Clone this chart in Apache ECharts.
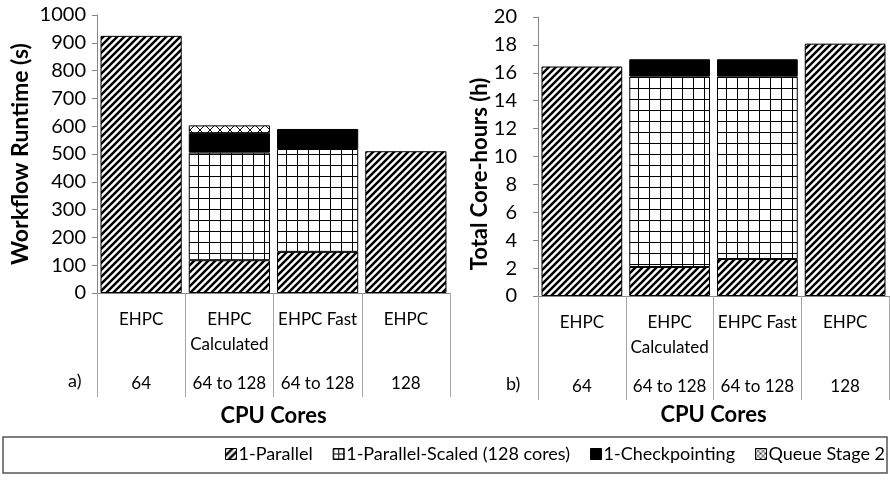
<!DOCTYPE html>
<html>
<head>
<meta charset="utf-8">
<script src="https://cdn.jsdelivr.net/npm/echarts@6/dist/echarts.min.js"></script>
<style>
html,body{margin:0;padding:0;background:#fff;}
#chart{width:890px;height:482px;}
</style>
</head>
<body>
<div id="chart"></div>
<script>
// ---- data ----
var categories = ['EHPC', 'EHPC\nCalculated', 'EHPC Fast', 'EHPC'];
var coreLabels = ['64', '64 to 128', '64 to 128', '128'];
var seriesNames = ['1-Parallel', '1-Parallel-Scaled (128 cores)', '1-Checkpointing', 'Queue Stage 2'];

var runtimeParallel = [925, 118, 148, 510];
var runtimeScaled = [null, 387, 370, null];
var runtimeCheckpoint = [null, 70, 72, null];
var runtimeQueue = [null, 28, null, null];

var coreHoursParallel = [16.45, 2.08, 2.65, 18.09];
var coreHoursScaled = [null, 13.65, 13.08, null];
var coreHoursCheckpoint = [null, 1.24, 1.24, null];

var runtimeTicks = {min: 0, max: 1000, interval: 100};
var coreHourTicks = {min: 0, max: 20, interval: 2};

// ---- patterns ----
function makeCanvas(w, h, draw) {
  var c = document.createElement('canvas');
  c.width = w; c.height = h;
  var ctx = c.getContext('2d');
  ctx.fillStyle = '#fff';
  ctx.fillRect(0, 0, w, h);
  draw(ctx, w, h);
  return c;
}
var hatch = makeCanvas(7, 7, function (ctx, w, h) {
  ctx.strokeStyle = '#000';
  ctx.lineWidth = 2.5;
  ctx.beginPath();
  for (var k = -1; k <= 1; k++) {
    ctx.moveTo(k * w - 1, h + 1);
    ctx.lineTo(k * w + w + 1, -1);
  }
  ctx.stroke();
});
var gridPat = makeCanvas(11, 11, function (ctx, w, h) {
  ctx.fillStyle = '#000';
  ctx.fillRect(0, 0, w, 1);
  ctx.fillRect(0, 0, 1, h);
});
var gridSmall = makeCanvas(5, 5, function (ctx, w, h) {
  ctx.fillStyle = '#000';
  ctx.fillRect(0, 0, w, 1);
  ctx.fillRect(0, 0, 1, h);
});
var cross = makeCanvas(10, 10, function (ctx, w, h) {
  ctx.strokeStyle = '#000';
  ctx.lineWidth = 1;
  ctx.beginPath();
  ctx.moveTo(0, 0); ctx.lineTo(w, h);
  ctx.moveTo(w, 0); ctx.lineTo(0, h);
  ctx.stroke();
});
var crossSmall = makeCanvas(5, 5, function (ctx, w, h) {
  ctx.strokeStyle = '#000';
  ctx.lineWidth = 0.8;
  ctx.beginPath();
  ctx.moveTo(0, 0); ctx.lineTo(w, h);
  ctx.moveTo(w, 0); ctx.lineTo(0, h);
  ctx.stroke();
});
var fills = [
  {image: hatch, repeat: 'repeat'},
  {image: gridPat, repeat: 'repeat'},
  '#000',
  {image: cross, repeat: 'repeat'}
];
var legendFills = [
  {image: hatch, repeat: 'repeat'},
  {image: gridSmall, repeat: 'repeat'},
  '#000',
  {image: crossSmall, repeat: 'repeat'}
];

var FONT = 'Lato';
var axisGray = '#868686';

function yAxisCfg(gridIndex, ticks, name, gap, margin, nameSize) {
  return {
    type: 'value', gridIndex: gridIndex,
    min: ticks.min, max: ticks.max, interval: ticks.interval,
    axisLine: {show: true, lineStyle: {color: axisGray, width: 1}},
    axisTick: {show: true, length: 5, lineStyle: {color: axisGray}},
    splitLine: {show: false},
    axisLabel: {fontFamily: FONT, fontSize: 20, color: '#000', margin: margin,
      formatter: function (v) { return String(v); }},
    name: name, nameLocation: 'middle', nameGap: gap,
    nameTextStyle: {fontFamily: FONT, fontSize: nameSize, fontWeight: 'bold', color: '#000'}
  };
}
function xAxisTop(gridIndex) {
  return {
    type: 'category', gridIndex: gridIndex, data: categories,
    axisLine: {show: true, lineStyle: {color: axisGray, width: 1}},
    axisTick: {show: true, length: 104, interval: 0, lineStyle: {color: '#a6a6a6'}},
    axisLabel: {interval: 0, fontFamily: FONT, fontSize: 17, lineHeight: 25, color: '#000', margin: 14},
    splitLine: {show: false}
  };
}
function xAxisBottom(gridIndex, gap) {
  return {
    type: 'category', gridIndex: gridIndex, data: coreLabels, position: 'bottom',
    axisLine: {show: false}, axisTick: {show: false},
    axisLabel: {interval: 0, fontFamily: FONT, fontSize: 17, lineHeight: 25, color: '#000', margin: 78},
    name: 'CPU Cores', nameLocation: 'middle', nameGap: gap,
    nameTextStyle: {fontFamily: FONT, fontSize: 22, fontWeight: 'bold', color: '#000'}
  };
}
function barSeries(name, idx, data, axisIdx) {
  return {
    type: 'bar', name: name, stack: 'g' + axisIdx, data: data,
    xAxisIndex: axisIdx * 2, yAxisIndex: axisIdx,
    barCategoryGap: '8%',
    itemStyle: {color: fills[idx], borderColor: '#000', borderWidth: 1},
    emphasis: {disabled: true}
  };
}

var chart = echarts.init(document.getElementById('chart'), null, {renderer: 'canvas'});
chart.setOption({
  animation: false,
  backgroundColor: '#fff',
  grid: [
    {left: 97, top: 15, width: 353, height: 278},
    {left: 538, top: 17, width: 351, height: 279}
  ],
  xAxis: [xAxisTop(0), xAxisBottom(0, 112), xAxisTop(1), xAxisBottom(1, 105)],
  yAxis: [
    yAxisCfg(0, runtimeTicks, 'Workflow Runtime (s)', 65, 11, 23),
    yAxisCfg(1, coreHourTicks, '', 48, 21, 21)
  ],
  legend: {
    data: seriesNames.map(function (n, i) {
      return {name: n, itemStyle: {color: legendFills[i], borderColor: '#000', borderWidth: 1}};
    }),
    left: 225, top: 445, padding: 0,
    itemWidth: 11, itemHeight: 11, itemGap: 20,
    icon: 'rect',
    textStyle: {fontFamily: FONT, fontSize: 18, color: '#000', padding: [0, 0, 0, -3]},
    selectedMode: false
  },
  graphic: [
    {type: 'rect', shape: {x: 3, y: 437, width: 884, height: 36},
     style: {fill: 'none', stroke: '#555', lineWidth: 1.5}, silent: true},
    {type: 'text', left: 68, top: 372, style: {text: 'a)', font: '18px ' + FONT, fill: '#000'}},
    {type: 'text', left: 506, top: 375, style: {text: 'b)', font: '18px ' + FONT, fill: '#000'}},
    {type: 'text', x: 480, y: 174, rotation: Math.PI / 2,
     style: {text: 'Total Core-hours (h)', font: 'bold 22px ' + FONT, fill: '#000',
             align: 'center', verticalAlign: 'middle'}}
  ],
  series: [
    barSeries(seriesNames[0], 0, runtimeParallel, 0),
    barSeries(seriesNames[1], 1, runtimeScaled, 0),
    barSeries(seriesNames[2], 2, runtimeCheckpoint, 0),
    barSeries(seriesNames[3], 3, runtimeQueue, 0),
    barSeries(seriesNames[0], 0, coreHoursParallel, 1),
    barSeries(seriesNames[1], 1, coreHoursScaled, 1),
    barSeries(seriesNames[2], 2, coreHoursCheckpoint, 1)
  ]
});
</script>
</body>
</html>
